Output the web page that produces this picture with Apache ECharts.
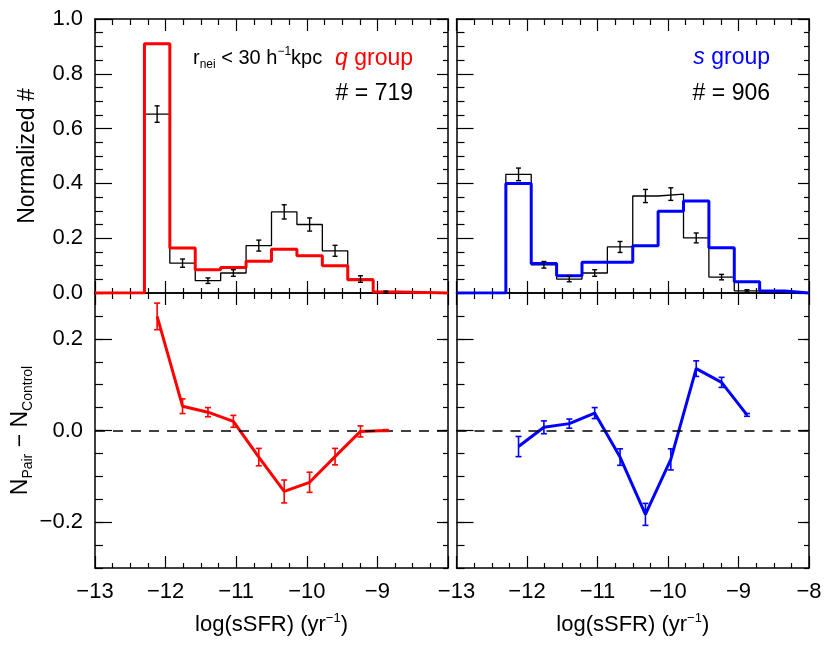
<!DOCTYPE html>
<html>
<head>
<meta charset="utf-8">
<script src="https://cdn.jsdelivr.net/npm/echarts@6/dist/echarts.min.js"></script>
<style>
  html, body { margin: 0; padding: 0; background: #fff; }
  #main { width: 830px; height: 654px; }
</style>
</head>
<body>
<div id="main"></div>
<script>
// bin centres of log(sSFR) histograms
const binCentersQ = [-12.12, -11.76, -11.40, -11.04, -10.68, -10.32, -9.96, -9.60, -9.24, -8.88];
const binCentersS = [-12.12, -11.76, -11.40, -11.04, -10.68, -10.32, -9.96, -9.60, -9.24, -8.88, -8.52];
const binWidth = 0.36;

// q group (left)
const qPair = [0.910, 0.164, 0.085, 0.093, 0.116, 0.160, 0.136, 0.099, 0.048, 0.004];
const qControl = [0.653, 0.109, 0.045, 0.073, 0.173, 0.296, 0.250, 0.154, 0.051, 0.003];
const qControlErr = [0.030, 0.015, 0.010, 0.012, 0.020, 0.026, 0.024, 0.020, 0.012, 0.004];
const qDiff = [0.249, 0.053, 0.040, 0.020, -0.058, -0.133, -0.113, -0.057, -0.002, 0.000];
const qDiffErr = [0.029, 0.016, 0.010, 0.013, 0.019, 0.025, 0.022, 0.018, 0.012, 0.002];

// s group (right)
const sPair = [0.400, 0.108, 0.063, 0.112, 0.112, 0.172, 0.298, 0.336, 0.165, 0.041, 0.007];
const sControl = [0.433, 0.103, 0.051, 0.073, 0.168, 0.354, 0.361, 0.201, 0.058, 0.008];
const sControlErr = [0.023, 0.012, 0.010, 0.012, 0.020, 0.024, 0.023, 0.018, 0.010, 0.004];
const sDiff = [-0.035, 0.007, 0.015, 0.038, -0.058, -0.183, -0.063, 0.135, 0.105, 0.034];
const sDiffErr = [0.022, 0.014, 0.010, 0.012, 0.018, 0.024, 0.023, 0.017, 0.011, 0.003];

// tick values
const diffMajorTicks = [-0.2, 0, 0.2];

const FONT = 'Liberation Sans';
const RED = '#ff0000';
const BLUE = '#0000ff';

const minus = s => String(s).replace('-', '\u2212');

function stepData(centers, values, lo, hi) {
    const h = binWidth / 2;
    const pts = [[lo, 0]];
    centers.forEach((c, i) => pts.push([c - h, values[i]]));
    const last = centers[centers.length - 1] + h;
    pts.push([last, values[values.length - 1]]);
    pts.push([last, 0]);
    pts.push([hi, 0]);
    return pts;
}

function errRender(color, cap, width) {
    return function (params, api) {
        const x = api.value(0), y = api.value(1), e = api.value(2);
        const p1 = api.coord([x, y + e]);
        const p2 = api.coord([x, y - e]);
        const style = { stroke: color, lineWidth: width };
        return {
            type: 'group',
            children: [
                { type: 'line', shape: { x1: p1[0], y1: p1[1], x2: p2[0], y2: p2[1] }, style },
                { type: 'line', shape: { x1: p1[0] - cap, y1: p1[1], x2: p1[0] + cap, y2: p1[1] }, style },
                { type: 'line', shape: { x1: p2[0] - cap, y1: p2[1], x2: p2[0] + cap, y2: p2[1] }, style }
            ]
        };
    };
}

const grids = [
    { left: 95, top: 19, width: 353, height: 274 },
    { left: 456.5, top: 19, width: 352.5, height: 274 },
    { left: 95, top: 293, width: 353, height: 275 },
    { left: 456.5, top: 293, width: 352.5, height: 275 }
];

const axisLine = { show: true, onZero: false, lineStyle: { color: '#000', width: 1.5 } };
const labelStyle = { color: '#000', fontSize: 22, fontFamily: FONT };

const xAxes = [];
const yAxes = [];

// x axes: bottom + top for every grid
function addX(grid, showLabels, hideMax) {
    const idx = xAxes.length;
    xAxes.push({
        type: 'value', gridIndex: grid, position: 'bottom',
        min: -13, max: -8, interval: 1,
        axisLine,
        axisTick: { inside: true, length: 12, lineStyle: { color: '#000', width: 1.2 } },
        minorTick: { show: true, splitNumber: 4, length: 5, lineStyle: { color: '#000', width: 1.2 } },
        splitLine: { show: false },
        axisLabel: Object.assign({ show: showLabels, margin: 13, showMaxLabel: !hideMax, formatter: v => minus(v) }, labelStyle),
        name: showLabels ? 'log(sSFR) (yr{sup|\u22121})' : '',
        nameLocation: 'middle', nameGap: 44,
        nameTextStyle: {
            color: '#000', fontSize: 22, fontFamily: FONT,
            rich: { sup: { fontSize: 13, fontFamily: FONT, color: '#000', padding: [0, 0, 13, 0] } }
        }
    });
    xAxes.push({
        type: 'value', gridIndex: grid, position: 'top',
        min: -13, max: -8, interval: 1,
        axisLine,
        axisTick: { inside: true, length: 12, lineStyle: { color: '#000', width: 1.2 } },
        minorTick: { show: true, splitNumber: 4, length: 6, lineStyle: { color: '#000', width: 1.2 } },
        splitLine: { show: false },
        axisLabel: { show: false }
    });
    return idx;
}

const tickStyle = { color: '#000', width: 1.2 };

function addYHist(grid, showLabels) {
    const idx = yAxes.length;
    yAxes.push({
        type: 'value', gridIndex: grid, position: 'left',
        min: 0, max: 1, interval: 0.2,
        axisLine,
        axisTick: { inside: true, length: 17, lineStyle: tickStyle },
        minorTick: { show: true, splitNumber: 4, length: 8, lineStyle: tickStyle },
        splitLine: { show: false },
        axisLabel: Object.assign({ show: showLabels, margin: 12, formatter: v => v.toFixed(1) }, labelStyle),
        name: showLabels ? 'Normalized #' : '',
        nameLocation: 'middle', nameRotate: 90, nameGap: 56,
        nameTextStyle: { color: '#000', fontSize: 23, fontFamily: FONT }
    });
    yAxes.push({
        type: 'value', gridIndex: grid, position: 'right',
        min: 0, max: 1, interval: 0.2,
        axisLine,
        axisTick: { inside: true, length: 11, lineStyle: tickStyle },
        minorTick: { show: true, splitNumber: 4, length: 5, lineStyle: tickStyle },
        splitLine: { show: false },
        axisLabel: { show: false }
    });
    return idx;
}

function addYDiff(grid, showLabels) {
    const idx = yAxes.length;
    // minor ticks every 0.05, carries the axis line and the series
    yAxes.push({
        type: 'value', gridIndex: grid, position: 'left',
        min: -0.3, max: 0.3, interval: 0.05,
        axisLine,
        axisTick: { inside: true, length: 8, lineStyle: tickStyle },
        splitLine: { show: false },
        axisLabel: { show: false }
    });
    // major ticks + labels
    yAxes.push({
        type: 'value', gridIndex: grid, position: 'left',
        min: -0.3, max: 0.3,
        axisLine: { show: false, onZero: false },
        axisTick: { inside: true, length: 17, customValues: diffMajorTicks, lineStyle: tickStyle },
        splitLine: { show: false },
        axisLabel: Object.assign({ show: showLabels, margin: 12, customValues: diffMajorTicks,
            formatter: v => minus(v.toFixed(1)) }, labelStyle),
        name: showLabels ? 'N{sub|Pair} \u2212 N{sub|Control}' : '',
        nameLocation: 'middle', nameRotate: 90, nameGap: 60,
        nameTextStyle: {
            color: '#000', fontSize: 23, fontFamily: FONT,
            rich: { sub: { fontSize: 14, fontFamily: FONT, color: '#000', padding: [14, 0, 0, 0] } }
        }
    });
    yAxes.push({
        type: 'value', gridIndex: grid, position: 'right',
        min: -0.3, max: 0.3, interval: 0.05,
        axisLine,
        axisTick: { inside: true, length: 5, lineStyle: tickStyle },
        splitLine: { show: false },
        axisLabel: { show: false }
    });
    yAxes.push({
        type: 'value', gridIndex: grid, position: 'right',
        min: -0.3, max: 0.3,
        axisLine: { show: false, onZero: false },
        axisTick: { inside: true, length: 11, customValues: diffMajorTicks, lineStyle: tickStyle },
        splitLine: { show: false },
        axisLabel: { show: false }
    });
    return idx;
}

const xTL = addX(0, false, false);
const xTR = addX(1, false, false);
const xBL = addX(2, true, true);
const xBR = addX(3, true, false);
const yTL = addYHist(0, true);
const yTR = addYHist(1, false);
const yBL = addYDiff(2, true);
const yBR = addYDiff(3, false);

const withErr = (xs, ys, es) => ys.map((v, i) => [xs[i], v, es[i]]);

function histLine(name, data, xi, yi, color, width) {
    return {
        name, type: 'line', step: 'end', data,
        xAxisIndex: xi, yAxisIndex: yi,
        symbol: 'none', lineStyle: { color, width }
    };
}

function errSeries(name, data, xi, yi, color, cap, width) {
    return {
        name, type: 'custom', data,
        xAxisIndex: xi, yAxisIndex: yi,
        encode: { x: 0, y: 1 },
        renderItem: errRender(color, cap, width),
        z: 5
    };
}

function diffLine(name, data, xi, yi, color) {
    return {
        name, type: 'line', data,
        xAxisIndex: xi, yAxisIndex: yi,
        symbol: 'none', lineStyle: { color, width: 3 },
        markLine: {
            silent: true, symbol: 'none', label: { show: false },
            lineStyle: { color: '#000', width: 1.5, type: [10, 8] },
            data: [{ yAxis: 0 }]
        }
    };
}

const series = [
    histLine('q control', stepData(binCentersQ, qControl, -13, -8), xTL, yTL, '#000', 1.3),
    histLine('q pair', stepData(binCentersQ, qPair, -13, -8), xTL, yTL, RED, 3),
    errSeries('q control err', withErr(binCentersQ, qControl, qControlErr), xTL, yTL, '#000', 2.5, 1.4),

    histLine('s control', stepData(binCentersS.slice(0, sControl.length), sControl, -13, -8), xTR, yTR, '#000', 1.3),
    histLine('s pair', stepData(binCentersS, sPair, -13, -8), xTR, yTR, BLUE, 3),
    errSeries('s control err', withErr(binCentersS, sControl, sControlErr), xTR, yTR, '#000', 2.5, 1.4),

    diffLine('q diff', qDiff.map((v, i) => [binCentersQ[i], v]), xBL, yBL, RED),
    errSeries('q diff err', withErr(binCentersQ, qDiff, qDiffErr), xBL, yBL, RED, 3, 1.6),

    diffLine('s diff', sDiff.map((v, i) => [binCentersS[i], v]), xBR, yBR, BLUE),
    errSeries('s diff err', withErr(binCentersS, sDiff, sDiffErr), xBR, yBR, BLUE, 3, 1.6)
];

const annRich = {
    r: { fontSize: 20, color: '#000', fontFamily: FONT },
    sub: { fontSize: 12, color: '#000', fontFamily: FONT, padding: [12, 0, 0, 0] },
    sup: { fontSize: 12, color: '#000', fontFamily: FONT, padding: [0, 0, 13, 0] },
    qi: { fontSize: 23, color: RED, fontFamily: FONT, fontStyle: 'italic' },
    q: { fontSize: 23, color: RED, fontFamily: FONT },
    si: { fontSize: 23, color: BLUE, fontFamily: FONT, fontStyle: 'italic' },
    s: { fontSize: 23, color: BLUE, fontFamily: FONT }
};

const titles = [
    { text: '{r|r}{sub|nei}{r| < 30 h}{sup|\u22121}{r|kpc}  {qi|q}{q| group}', right: 417, top: 46 },
    { text: '# = 719', right: 417, top: 82 },
    { text: '{si|s}{s| group}', right: 60, top: 46 },
    { text: '# = 906', right: 60, top: 82 }
].map(t => Object.assign({
    padding: 0,
    textStyle: { fontSize: 23, fontWeight: 'normal', color: '#000', fontFamily: FONT, rich: annRich }
}, t));

const chart = echarts.init(document.getElementById('main'));
chart.setOption({
    animation: false,
    backgroundColor: '#fff',
    textStyle: { fontFamily: FONT },
    title: titles,
    grid: grids,
    xAxis: xAxes,
    yAxis: yAxes,
    series: series
});
</script>
</body>
</html>
